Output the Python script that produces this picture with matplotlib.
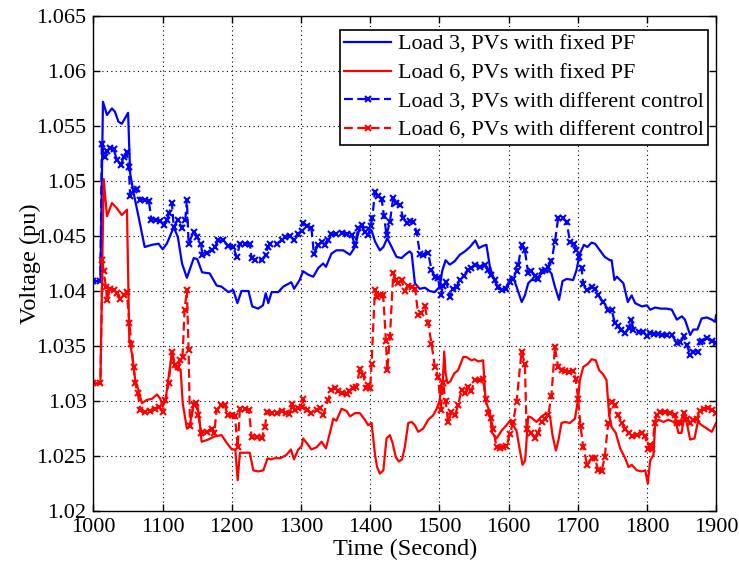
import matplotlib
matplotlib.use("Agg")
import matplotlib.pyplot as plt

# ---- data ----
t_l3_fixed = [1000, 1010, 1013.7, 1019.5, 1026.7, 1031, 1036, 1041, 1050, 1053, 1058, 1065, 1074, 1084.5, 1094, 1100, 1106, 1116, 1122, 1128, 1135, 1145, 1150, 1157, 1168, 1178, 1185, 1195, 1202, 1208, 1214, 1224, 1229.5, 1238, 1245, 1249, 1252.7, 1257.5, 1267, 1274.4, 1286, 1290, 1298, 1303, 1310, 1317.7, 1325, 1332, 1336, 1344, 1351, 1361, 1370.7, 1378, 1385, 1395, 1402, 1407, 1414, 1419, 1424.6, 1431, 1438, 1445.3, 1452.5, 1457, 1460, 1464.6, 1471.8, 1479, 1486, 1493, 1500.7, 1504, 1509, 1515, 1522, 1529.6, 1536.8, 1544, 1552, 1557, 1563, 1568, 1573, 1577.7, 1585, 1592, 1597, 1604, 1607, 1611.5, 1619, 1623.6, 1628.4, 1633, 1638, 1647.7, 1657.3, 1662, 1667, 1673, 1678, 1684, 1693.4, 1698.2, 1703, 1709, 1714, 1720, 1725, 1732, 1739, 1746.4, 1749, 1753, 1756.5, 1766, 1772.4, 1778, 1783, 1792.7, 1800, 1804.7, 1812, 1820, 1828.8, 1836, 1843.2, 1850.5, 1855, 1862.5, 1867, 1873, 1879, 1886.6, 1893.8, 1898.6, 1900]
v_l3_fixed = [1.0409, 1.0409, 1.0572, 1.0560, 1.0566, 1.0563, 1.0554, 1.0552, 1.0562, 1.0507, 1.0489, 1.0468, 1.0440, 1.0442, 1.0443, 1.0438, 1.0443, 1.0458, 1.0449, 1.0425, 1.0412, 1.0430, 1.0429, 1.0417, 1.0416, 1.0405, 1.0404, 1.0399, 1.0401, 1.0389, 1.0400, 1.0400, 1.0386, 1.0384, 1.0387, 1.0398, 1.0389, 1.0399, 1.0399, 1.0404, 1.0408, 1.0402, 1.0410, 1.0418, 1.0415, 1.0413, 1.0421, 1.0425, 1.0422, 1.0434, 1.0437, 1.0437, 1.0433, 1.0440, 1.0458, 1.0458, 1.0455, 1.0445, 1.0437, 1.0440, 1.0448, 1.0440, 1.0431, 1.0430, 1.0434, 1.0436, 1.0434, 1.0407, 1.0402, 1.0403, 1.0400, 1.0399, 1.0404, 1.0418, 1.0428, 1.0424, 1.0427, 1.0433, 1.0436, 1.0440, 1.0446, 1.0439, 1.0441, 1.0442, 1.0422, 1.0413, 1.0402, 1.0401, 1.0404, 1.0413, 1.0412, 1.0404, 1.0390, 1.0396, 1.0407, 1.0410, 1.0410, 1.0416, 1.0419, 1.0416, 1.0404, 1.0392, 1.0409, 1.0411, 1.0410, 1.0419, 1.0434, 1.0442, 1.0440, 1.0444, 1.0443, 1.0437, 1.0431, 1.0428, 1.0428, 1.0410, 1.0413, 1.0407, 1.0390, 1.0396, 1.0389, 1.0386, 1.0387, 1.0383, 1.0385, 1.0384, 1.0384, 1.0383, 1.0374, 1.0377, 1.0374, 1.0360, 1.0365, 1.0365, 1.0375, 1.0376, 1.0374, 1.0372, 1.0378]

t_l6_fixed = [1000, 1010, 1014.7, 1019.5, 1026.7, 1034, 1041, 1048.4, 1051.8, 1055.6, 1060.4, 1065, 1070, 1077, 1084.5, 1091.8, 1096.6, 1100, 1104, 1108.6, 1113.4, 1118, 1122, 1126, 1129, 1135, 1139, 1144.7, 1149.6, 1153, 1156.3, 1166, 1175.6, 1185.2, 1192.5, 1200, 1205, 1208.4, 1211.7, 1219, 1226, 1231, 1238, 1245.5, 1251.7, 1256, 1262.3, 1270, 1279, 1285.4, 1289.8, 1296, 1301, 1303, 1308, 1315, 1322.5, 1329.7, 1336, 1341.7, 1346.6, 1351, 1358.6, 1365.8, 1370.7, 1378, 1385, 1392.3, 1397, 1402, 1407, 1410, 1414, 1419, 1423.6, 1428.5, 1432.3, 1437, 1441.5, 1446, 1450, 1455, 1460, 1464.6, 1469.4, 1476.6, 1483.8, 1491, 1496, 1500.7, 1503, 1505, 1507, 1509, 1511.8, 1516, 1521.4, 1527, 1534.4, 1539, 1546.4, 1551, 1556, 1563.3, 1566.7, 1573, 1576.3, 1582.6, 1589.8, 1597, 1602, 1606.7, 1611.5, 1616.4, 1620.2, 1624, 1628.4, 1633, 1640.4, 1647.7, 1655, 1660, 1663.5, 1668.4, 1672, 1676.5, 1681.4, 1688.6, 1696, 1700.6, 1703, 1708, 1715, 1720, 1726, 1731, 1737, 1741.6, 1745.4, 1749.3, 1755, 1761.3, 1768.6, 1773.4, 1778, 1785.4, 1792.7, 1797.5, 1801.3, 1804.7, 1809.5, 1812, 1816.7, 1824, 1831, 1838.4, 1843, 1845.6, 1850, 1854.3, 1857.7, 1862.5, 1868.8, 1873.6, 1879.4, 1886.6, 1893.8, 1900]
v_l6_fixed = [1.0316, 1.0316, 1.0502, 1.0468, 1.0480, 1.0475, 1.0469, 1.0474, 1.0355, 1.0343, 1.0319, 1.0310, 1.0298, 1.0301, 1.0302, 1.0306, 1.0302, 1.0295, 1.0300, 1.0322, 1.0343, 1.0331, 1.0328, 1.0328, 1.0298, 1.0275, 1.0277, 1.0298, 1.0298, 1.0284, 1.0263, 1.0265, 1.0268, 1.0269, 1.0262, 1.0256, 1.0256, 1.0228, 1.0253, 1.0253, 1.0253, 1.0237, 1.0236, 1.0237, 1.0248, 1.0247, 1.0248, 1.0248, 1.0251, 1.0256, 1.0247, 1.0256, 1.0259, 1.0266, 1.0262, 1.0256, 1.0258, 1.0263, 1.0257, 1.0271, 1.0284, 1.0282, 1.0293, 1.0291, 1.0286, 1.0289, 1.0289, 1.0283, 1.0278, 1.0280, 1.0251, 1.0240, 1.0234, 1.0237, 1.0266, 1.0269, 1.0262, 1.0249, 1.0245, 1.0247, 1.0258, 1.0280, 1.0281, 1.0278, 1.0272, 1.0275, 1.0283, 1.0287, 1.0293, 1.0301, 1.0316, 1.0318, 1.0345, 1.0325, 1.0316, 1.0318, 1.0325, 1.0328, 1.0340, 1.0340, 1.0337, 1.0338, 1.0336, 1.0337, 1.0300, 1.0290, 1.0271, 1.0266, 1.0273, 1.0278, 1.0282, 1.0278, 1.0273, 1.0255, 1.0242, 1.0246, 1.0286, 1.0285, 1.0281, 1.0286, 1.0289, 1.0286, 1.0269, 1.0255, 1.0264, 1.0280, 1.0281, 1.0280, 1.0284, 1.0302, 1.0319, 1.0331, 1.0334, 1.0338, 1.0337, 1.0328, 1.0324, 1.0319, 1.0287, 1.0276, 1.0271, 1.0257, 1.0248, 1.0240, 1.0242, 1.0237, 1.0236, 1.0237, 1.0225, 1.0246, 1.0251, 1.0280, 1.0283, 1.0281, 1.0283, 1.0281, 1.0278, 1.0271, 1.0271, 1.0287, 1.0280, 1.0265, 1.0266, 1.0281, 1.0278, 1.0275, 1.0272, 1.0280]

t_l3_ctrl = [1000, 1010, 1012, 1016, 1019.5, 1024, 1029, 1034, 1040, 1043.6, 1048, 1051, 1053, 1058, 1063, 1067.7, 1075, 1080, 1083.6, 1090, 1096.6, 1101.4, 1106, 1109.6, 1113.4, 1116, 1122, 1128, 1132.7, 1135, 1137.5, 1144.7, 1149.6, 1155.4, 1157.3, 1164, 1170.8, 1175.6, 1180.4, 1187.6, 1194.9, 1202, 1207, 1211.7, 1219, 1226, 1228.6, 1233.4, 1243, 1249, 1252, 1255, 1264.7, 1272, 1276.8, 1284, 1290.3, 1296, 1301, 1303.3, 1308, 1315, 1318.6, 1325, 1329.7, 1334, 1339, 1344, 1351, 1358.6, 1365.8, 1373, 1378, 1382.7, 1387.5, 1392, 1397, 1400.5, 1403, 1406.8, 1411.6, 1416.4, 1420, 1423.6, 1428.5, 1433.3, 1438, 1443, 1447.7, 1452.5, 1457, 1462, 1467, 1471.8, 1477, 1483.8, 1488.6, 1493.5, 1498, 1502, 1505.5, 1510, 1515, 1520, 1524.8, 1529.6, 1535.8, 1541.6, 1546.4, 1552, 1558.5, 1565.7, 1570.5, 1575.3, 1580, 1585, 1590.8, 1596, 1601.8, 1606, 1611.5, 1614, 1619, 1623.6, 1628.4, 1633, 1638, 1643, 1647.7, 1652.5, 1657, 1662, 1667, 1671.7, 1678, 1684, 1688.6, 1694.4, 1698.2, 1702, 1705.5, 1708, 1713.7, 1720, 1724.7, 1729.6, 1736.8, 1744, 1749, 1753.6, 1758.5, 1762.8, 1768.6, 1773.4, 1777.3, 1780.6, 1788, 1795, 1800, 1804.7, 1810, 1815.8, 1822, 1829, 1836, 1843, 1848, 1853, 1857.7, 1862.5, 1867.3, 1873.6, 1877, 1880.3, 1886.6, 1893.8, 1900]
v_l3_ctrl = [1.0409, 1.0409, 1.0534, 1.0522, 1.0527, 1.0530, 1.0529, 1.0519, 1.0515, 1.0522, 1.0526, 1.0513, 1.0486, 1.0492, 1.0493, 1.0483, 1.0483, 1.0482, 1.0465, 1.0465, 1.0464, 1.0460, 1.0465, 1.0471, 1.0480, 1.0458, 1.0465, 1.0457, 1.0465, 1.0483, 1.0443, 1.0454, 1.0449, 1.0443, 1.0433, 1.0435, 1.0437, 1.0440, 1.0446, 1.0446, 1.0441, 1.0440, 1.0431, 1.0443, 1.0443, 1.0443, 1.0430, 1.0428, 1.0428, 1.0433, 1.0440, 1.0443, 1.0443, 1.0446, 1.0449, 1.0450, 1.0446, 1.0452, 1.0455, 1.0462, 1.0459, 1.0457, 1.0434, 1.0442, 1.0445, 1.0442, 1.0446, 1.0452, 1.0452, 1.0453, 1.0452, 1.0451, 1.0442, 1.0457, 1.0460, 1.0454, 1.0451, 1.0459, 1.0466, 1.0490, 1.0486, 1.0484, 1.0468, 1.0451, 1.0463, 1.0485, 1.0480, 1.0478, 1.0466, 1.0462, 1.0464, 1.0463, 1.0454, 1.0434, 1.0433, 1.0435, 1.0419, 1.0413, 1.0412, 1.0396, 1.0405, 1.0408, 1.0395, 1.0402, 1.0404, 1.0410, 1.0414, 1.0419, 1.0421, 1.0424, 1.0422, 1.0424, 1.0419, 1.0415, 1.0410, 1.0404, 1.0401, 1.0402, 1.0408, 1.0411, 1.0418, 1.0424, 1.0442, 1.0437, 1.0416, 1.0418, 1.0414, 1.0411, 1.0418, 1.0419, 1.0422, 1.0427, 1.0445, 1.0466, 1.0466, 1.0463, 1.0445, 1.0443, 1.0437, 1.0431, 1.0421, 1.0406, 1.0401, 1.0404, 1.0402, 1.0396, 1.0390, 1.0383, 1.0383, 1.0371, 1.0368, 1.0365, 1.0362, 1.0366, 1.0374, 1.0365, 1.0363, 1.0363, 1.0359, 1.0362, 1.0361, 1.0361, 1.0360, 1.0360, 1.0360, 1.0353, 1.0354, 1.0359, 1.0351, 1.0342, 1.0345, 1.0345, 1.0354, 1.0355, 1.0357, 1.0355, 1.0353]

t_l6_ctrl = [1000, 1010, 1013, 1014.7, 1018, 1019.5, 1024, 1029, 1034, 1038.8, 1043.6, 1048, 1052, 1054.6, 1058, 1060.4, 1064, 1067.7, 1075, 1082, 1089, 1094, 1100, 1103.8, 1108.6, 1113.4, 1118, 1122, 1125.4, 1128.7, 1131.7, 1135, 1137.5, 1139.5, 1144.7, 1148, 1151.5, 1156, 1163.6, 1170.8, 1174.6, 1178, 1184.2, 1190, 1194, 1200, 1204.5, 1208.4, 1211.7, 1219, 1224.7, 1228.6, 1236, 1243, 1247.9, 1250.3, 1257.5, 1264.7, 1272, 1279, 1283, 1287.4, 1291.2, 1296, 1301, 1303.3, 1308, 1315, 1322.5, 1327.3, 1332, 1339, 1344, 1349, 1354, 1358.6, 1365.8, 1370, 1375.5, 1380, 1385, 1390, 1393.8, 1397, 1400, 1402, 1406.8, 1410, 1414, 1418.8, 1422.7, 1424.6, 1428.5, 1433.3, 1437, 1440.5, 1445.3, 1450, 1455, 1460, 1465, 1469.4, 1474, 1479, 1483.8, 1488.6, 1493.5, 1498.3, 1502, 1505.5, 1509, 1512.7, 1517.5, 1522.4, 1527, 1532, 1537, 1541.6, 1546, 1551, 1558.5, 1563.3, 1566.7, 1570.5, 1574, 1577.8, 1582.6, 1587.4, 1592, 1597, 1601.8, 1606.7, 1611.5, 1618.8, 1623.6, 1626, 1633, 1638, 1643, 1647.7, 1652.5, 1657.3, 1662, 1667, 1671.7, 1676.6, 1681, 1687.6, 1693.4, 1697, 1700.6, 1704, 1708, 1713.7, 1720, 1725, 1729.6, 1734.4, 1739, 1744, 1749, 1753.6, 1758.5, 1763.8, 1768.6, 1773.4, 1778, 1785.4, 1792.7, 1797.5, 1801.3, 1805, 1808, 1811, 1814.3, 1819, 1826.4, 1833.6, 1839.9, 1843.2, 1848, 1852.9, 1857.7, 1862.5, 1867.3, 1872, 1877, 1881.8, 1889, 1893.8, 1900]
v_l6_ctrl = [1.0316, 1.0316, 1.0428, 1.0418, 1.0404, 1.0392, 1.0402, 1.0401, 1.0398, 1.0393, 1.0396, 1.0399, 1.0371, 1.0352, 1.0331, 1.0316, 1.0307, 1.0292, 1.0290, 1.0291, 1.0293, 1.0295, 1.0290, 1.0301, 1.0316, 1.0345, 1.0333, 1.0331, 1.0337, 1.0340, 1.0383, 1.0401, 1.0346, 1.0277, 1.0296, 1.0298, 1.0287, 1.0271, 1.0272, 1.0275, 1.0271, 1.0292, 1.0296, 1.0296, 1.0287, 1.0287, 1.0286, 1.0258, 1.0293, 1.0293, 1.0292, 1.0267, 1.0267, 1.0266, 1.0276, 1.0290, 1.0289, 1.0289, 1.0291, 1.0289, 1.0288, 1.0297, 1.0292, 1.0294, 1.0295, 1.0302, 1.0292, 1.0289, 1.0292, 1.0294, 1.0287, 1.0301, 1.0310, 1.0312, 1.0309, 1.0307, 1.0306, 1.0309, 1.0312, 1.0313, 1.0329, 1.0324, 1.0312, 1.0315, 1.0312, 1.0334, 1.0401, 1.0395, 1.0396, 1.0396, 1.0355, 1.0328, 1.0358, 1.0416, 1.0410, 1.0407, 1.0410, 1.0400, 1.0405, 1.0404, 1.0402, 1.0378, 1.0380, 1.0386, 1.0371, 1.0352, 1.0331, 1.0322, 1.0292, 1.0316, 1.0300, 1.0281, 1.0290, 1.0287, 1.0296, 1.0310, 1.0307, 1.0313, 1.0309, 1.0319, 1.0319, 1.0320, 1.0302, 1.0289, 1.0285, 1.0275, 1.0258, 1.0257, 1.0258, 1.0259, 1.0270, 1.0281, 1.0299, 1.0345, 1.0334, 1.0275, 1.0271, 1.0266, 1.0271, 1.0281, 1.0284, 1.0287, 1.0305, 1.0349, 1.0331, 1.0328, 1.0327, 1.0326, 1.0327, 1.0320, 1.0302, 1.0277, 1.0258, 1.0242, 1.0248, 1.0248, 1.0237, 1.0236, 1.0249, 1.0280, 1.0299, 1.0296, 1.0287, 1.0280, 1.0275, 1.0271, 1.0268, 1.0269, 1.0271, 1.0268, 1.0256, 1.0260, 1.0256, 1.0280, 1.0287, 1.0290, 1.0290, 1.0289, 1.0287, 1.0280, 1.0280, 1.0289, 1.0284, 1.0280, 1.0283, 1.0284, 1.0291, 1.0293, 1.0294, 1.0292, 1.0289]

labels = ["Load 3, PVs with fixed PF", "Load 6, PVs with fixed PF",
          "Load 3, PVs with different control", "Load 6, PVs with different control"]
x_ticks = [1000, 1100, 1200, 1300, 1400, 1500, 1600, 1700, 1800, 1900]
y_ticks = [1.02, 1.025, 1.03, 1.035, 1.04, 1.045, 1.05, 1.055, 1.06, 1.065]

plt.rcParams['font.family'] = ['Liberation Serif', 'DejaVu Serif']

fig = plt.figure(figsize=(7.39, 5.71), dpi=100)
ax = fig.add_axes([0.1265, 0.105, 0.8425, 0.867])

lw = 1.6
ax.plot(t_l3_fixed, v_l3_fixed, color='#0000ff', lw=lw, label=labels[0])
ax.plot(t_l6_fixed, v_l6_fixed, color='#ff0000', lw=lw, label=labels[1])
ax.plot(t_l3_ctrl, v_l3_ctrl, color='#0000ff', lw=lw, ls=(0, (4, 2)), marker='x',
        ms=4.5, mew=1.5, label=labels[2])
ax.plot(t_l6_ctrl, v_l6_ctrl, color='#ff0000', lw=lw, ls=(0, (4, 2)), marker='x',
        ms=4.5, mew=1.5, label=labels[3])

ax.set_xlim(1000, 1900)
ax.set_ylim(1.02, 1.065)
ax.set_xticks(x_ticks)
ax.set_yticks(y_ticks)
ax.set_yticklabels([f"{v:g}" for v in y_ticks])
ax.tick_params(direction='in', top=True, right=True, labelsize=16, length=5, width=1, colors='black')
ax.tick_params(axis='y', pad=5)
ax.tick_params(axis='x', pad=5)
ax.grid(True, color='black', ls=(0, (1, 3)), lw=0.8)
for s in ax.spines.values():
    s.set_linewidth(1.0)
    s.set_color('black')

ax.set_xlabel("Time (Second)", fontsize=17.5, labelpad=1)
ax.set_ylabel("Voltage (pu)", fontsize=17.5, labelpad=-3)

leg = ax.legend(loc='upper right', bbox_to_anchor=(0.987, 0.9717), borderaxespad=0,
                fontsize=16, fancybox=False, framealpha=1, edgecolor='black',
                handlelength=2.1, handletextpad=0.3, labelspacing=0.36, borderpad=0.2)
leg.get_frame().set_linewidth(1.2)

fig.savefig("out.png", dpi=100)
